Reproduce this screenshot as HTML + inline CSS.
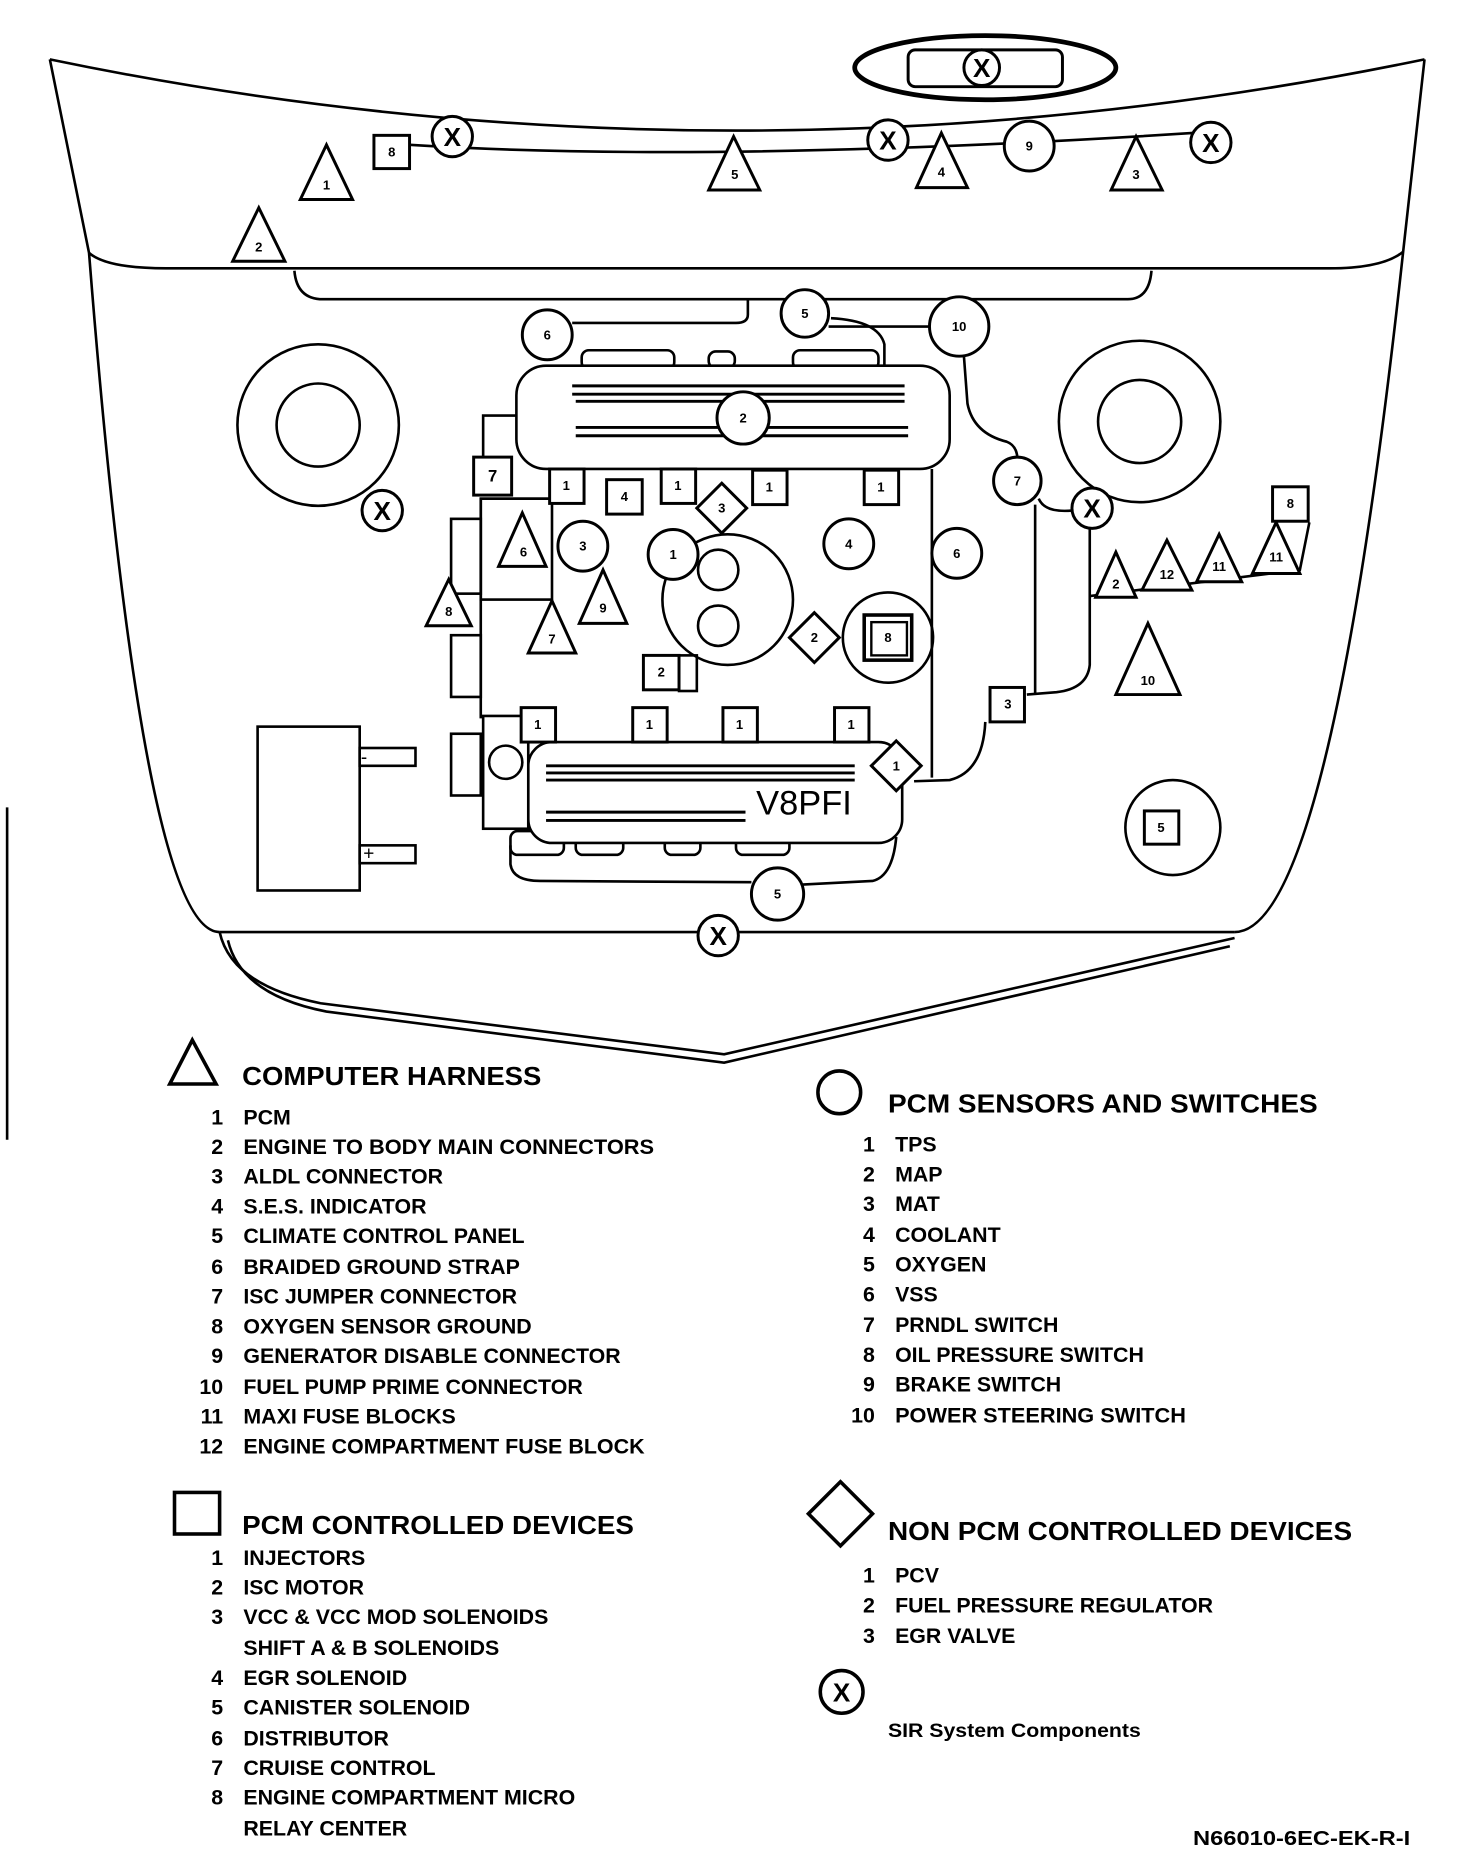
<!DOCTYPE html>
<html><head><meta charset="utf-8"><style>
html,body{margin:0;padding:0;background:#fff;}
svg{display:block;}
text{font-family:"Liberation Sans",Arial,sans-serif;fill:#000;}
.n{font-size:11px;font-weight:bold;text-anchor:middle;dominant-baseline:central;}
.h{font-size:22px;font-weight:bold;}
.i{font-size:18px;font-weight:bold;}
.r{font-size:18px;font-weight:bold;text-anchor:end;}
</style></head><body>
<svg width="1472" height="1870" viewBox="0 0 1240 1575" preserveAspectRatio="none" xmlns="http://www.w3.org/2000/svg">
<g fill="none" stroke="#000" stroke-width="2.2">
<path d="M42,50 Q620,170 1200,50"/>
<path d="M42,50 L75,213 Q120,785 185,785"/>
<path d="M1200,50 L1182,212 Q1120,785 1040,785"/>
<path d="M75,213 Q90,226 140,226 L1120,226 Q1165,226 1182,212"/>
<path d="M185,785 L1040,785"/>
<path d="M185,785 Q195,830 270,845 L610,888 L1040,790"/>
<path d="M192,792 Q203,838 275,852 L610,895 L1036,797"/>
<line x1="6" y1="680" x2="6" y2="960"/>
<ellipse cx="830" cy="57" rx="110" ry="27" stroke-width="4"/>
<rect x="765" y="42" width="130" height="31" rx="6" stroke-width="2.5"/>
<path d="M345,122 Q600,138 1005,112"/>
<path d="M248,228 Q250,252 272,252 L950,252 Q968,252 970,228"/>
<path d="M630,252 L630,265 Q630,272 620,272 L482,272"/>
<path d="M698,275 L788,275"/>
<path d="M700,268 Q740,270 745,290 L745,308"/>
<circle cx="268" cy="358" r="68"/><circle cx="268" cy="358" r="35"/>
<circle cx="960" cy="355" r="68"/><circle cx="960" cy="355" r="35"/>
<rect x="490" y="295" width="78" height="16" rx="6"/>
<rect x="597" y="296" width="22" height="14" rx="6"/>
<rect x="668" y="295" width="72" height="16" rx="6"/>
<rect x="435" y="308" width="365" height="87" rx="25" fill="#fff"/>
<path d="M435,350 L407,350 L407,385"/>
<path d="M465,420 L405,420 L405,605"/>
<path d="M785,395 L785,655"/>
<rect x="405" y="420" width="60" height="85"/>
<rect x="380" y="437" width="25" height="63"/>
<rect x="380" y="535" width="25" height="52"/>
<rect x="380" y="618" width="25" height="52"/>
<circle cx="613" cy="505" r="55"/>
<circle cx="605" cy="480" r="17"/><circle cx="605" cy="527" r="17"/>
<circle cx="748" cy="537" r="38"/>
<rect x="728" y="518" width="40" height="38" stroke-width="3"/>
<rect x="734" y="524" width="30" height="28" stroke-width="2"/>
<rect x="572" y="552" width="15" height="30"/>
<rect x="430" y="700" width="45" height="20" rx="6"/>
<rect x="485" y="705" width="40" height="15" rx="6"/>
<rect x="560" y="705" width="30" height="15" rx="6"/>
<rect x="620" y="705" width="45" height="15" rx="6"/>
<rect x="445" y="625" width="315" height="85" rx="20" fill="#fff"/>
<rect x="407" y="603" width="38" height="95" fill="#fff"/>
<circle cx="426" cy="642" r="14"/>
<path d="M430,712 L430,728 Q432,742 455,742 L633,743"/>
<path d="M676,745 L735,742 Q752,738 755,705"/>
<path d="M812,300 L815,340 Q820,365 848,372 Q856,375 857,385"/>
<path d="M875,420 Q880,432 903,430"/>
<path d="M872,425 L872,585"/>
<path d="M918,445 L918,560 Q916,580 890,583 L865,585"/>
<path d="M830,608 Q828,650 800,657 L770,658"/>
<path d="M918,502 L1095,480 L1103,440"/>
<rect x="217" y="612" width="86" height="138"/>
<rect x="303" y="630" width="47" height="15"/>
<rect x="303" y="712" width="47" height="15"/>
<circle cx="988" cy="697" r="40"/>
</g>
<g fill="none" stroke="#000" stroke-width="2.5">
<line x1="482" y1="325" x2="762" y2="325"/><line x1="482" y1="332" x2="762" y2="332"/><line x1="485" y1="338" x2="762" y2="338"/>
<line x1="485" y1="360" x2="765" y2="360"/><line x1="485" y1="367" x2="765" y2="367"/>
<line x1="460" y1="645" x2="720" y2="645"/><line x1="460" y1="651" x2="720" y2="651"/><line x1="460" y1="657" x2="720" y2="657"/>
<line x1="460" y1="684" x2="628" y2="684"/><line x1="460" y1="691" x2="628" y2="691"/>
</g>
<text x="637" y="686" style="font-size:29px">V8PFI</text>
<text x="304" y="643" style="font-size:16px">-</text>
<text x="306" y="724" style="font-size:16px">+</text>

<g fill="#fff" stroke="#000" stroke-width="2.5">
<circle cx="381" cy="115" r="17"/><circle cx="748" cy="118" r="17"/><circle cx="1020" cy="120" r="17"/>
<circle cx="322" cy="430" r="17"/><circle cx="920" cy="428" r="17"/><circle cx="605" cy="788" r="17"/>
<circle cx="827" cy="57" r="15"/>
</g>
<g style="font-size:22px;font-weight:bold" text-anchor="middle">
<text x="381" y="123">X</text><text x="748" y="126">X</text><text x="1020" y="128">X</text>
<text x="322" y="438">X</text><text x="920" y="436">X</text><text x="605" y="796">X</text><text x="827" y="65">X</text>
</g>

<g fill="#fff" stroke="#000" stroke-width="2.5">
<polygon points="275,122 253,168 297,168"/>
<polygon points="218,175 196,220 240,220"/>
<polygon points="618,115 597,160 640,160"/>
<polygon points="793,112 772,158 815,158"/>
<polygon points="957,115 936,160 979,160"/>
<polygon points="440,432 420,477 460,477"/>
<polygon points="378,488 359,527 397,527"/>
<polygon points="508,480 488,525 528,525"/>
<polygon points="465,506 445,550 485,550"/>
<polygon points="940,465 923,503 957,503"/>
<polygon points="983,455 962,497 1004,497"/>
<polygon points="1027,450 1008,490 1046,490"/>
<polygon points="1075,440 1055,483 1095,483"/>
<polygon points="967,525 940,585 994,585"/>
</g>
<text class="n" x="275" y="156">1</text><text class="n" x="218" y="208">2</text><text class="n" x="619" y="147">5</text>
<text class="n" x="793" y="145">4</text><text class="n" x="957" y="147">3</text><text class="n" x="441" y="465">6</text>
<text class="n" x="378" y="515">8</text><text class="n" x="508" y="512">9</text><text class="n" x="465" y="538">7</text>
<text class="n" x="940" y="492">2</text><text class="n" x="983" y="484">12</text><text class="n" x="1027" y="477">11</text>
<text class="n" x="1075" y="469">11</text><text class="n" x="967" y="573">10</text>

<g fill="#fff" stroke="#000" stroke-width="2.5">
<circle cx="867" cy="123" r="21"/><circle cx="461" cy="282" r="21"/><circle cx="678" cy="264" r="20"/>
<circle cx="808" cy="275" r="25"/><circle cx="626" cy="352" r="22"/><circle cx="857" cy="405" r="20"/>
<circle cx="491" cy="460" r="21"/><circle cx="567" cy="467" r="21"/><circle cx="715" cy="458" r="21"/>
<circle cx="806" cy="466" r="21"/><circle cx="655" cy="753" r="22"/>
</g>
<text class="n" x="867" y="123">9</text><text class="n" x="461" y="282">6</text><text class="n" x="678" y="264">5</text>
<text class="n" x="808" y="275">10</text><text class="n" x="626" y="352">2</text><text class="n" x="857" y="405">7</text>
<text class="n" x="491" y="460">3</text><text class="n" x="567" y="467">1</text><text class="n" x="715" y="458">4</text>
<text class="n" x="806" y="466">6</text><text class="n" x="655" y="753">5</text>

<g fill="#fff" stroke="#000" stroke-width="2.5">
<rect x="315" y="114" width="30" height="28"/>
<rect x="399" y="385" width="32" height="32"/>
<rect x="463" y="395" width="29" height="29"/><rect x="511" y="404" width="30" height="29"/>
<rect x="557" y="395" width="29" height="29"/><rect x="634" y="396" width="29" height="29"/>
<rect x="728" y="396" width="29" height="29"/>
<rect x="542" y="552" width="30" height="29"/>
<rect x="439" y="596" width="29" height="29"/><rect x="533" y="596" width="29" height="29"/>
<rect x="609" y="596" width="29" height="29"/><rect x="703" y="596" width="29" height="29"/>
<rect x="834" y="579" width="29" height="29"/>
<rect x="1072" y="410" width="30" height="29"/>
<rect x="964" y="683" width="29" height="28"/>
</g>
<text class="n" x="330" y="128">8</text><text class="n" x="415" y="401" style="font-size:14px">7</text>
<text class="n" x="477" y="409">1</text><text class="n" x="526" y="418">4</text><text class="n" x="571" y="409">1</text>
<text class="n" x="648" y="410">1</text><text class="n" x="742" y="410">1</text><text class="n" x="557" y="566">2</text>
<text class="n" x="453" y="610">1</text><text class="n" x="547" y="610">1</text><text class="n" x="623" y="610">1</text>
<text class="n" x="717" y="610">1</text><text class="n" x="849" y="593">3</text><text class="n" x="1087" y="424">8</text>
<text class="n" x="978" y="697">5</text><text class="n" x="748" y="537">8</text>

<g fill="#fff" stroke="#000" stroke-width="2.5">
<polygon points="608,407 629,428 608,449 587,428"/>
<polygon points="686,516 707,537 686,558 665,537"/>
<polygon points="755,624 776,645 755,666 734,645"/>
</g>
<text class="n" x="608" y="428">3</text><text class="n" x="686" y="537">2</text><text class="n" x="755" y="645">1</text>

<g fill="none" stroke="#000" stroke-width="3">
<polygon points="162,876 143,913 182,913"/>
<rect x="147" y="1257" width="38" height="35"/>
<circle cx="707" cy="920" r="18"/>
<polygon points="708,1248 735,1275 708,1302 681,1275"/>
<circle cx="709" cy="1425" r="18"/>
</g>
<text x="709" y="1433" text-anchor="middle" style="font-size:22px;font-weight:bold">X</text>

<text class="h" x="204" y="914" textLength="252" lengthAdjust="spacingAndGlyphs">COMPUTER HARNESS</text>
<text class="r" x="188" y="947">1</text><text class="i" x="205" y="947">PCM</text>
<text class="r" x="188" y="972">2</text><text class="i" x="205" y="972" textLength="346" lengthAdjust="spacingAndGlyphs">ENGINE TO BODY MAIN CONNECTORS</text>
<text class="r" x="188" y="997">3</text><text class="i" x="205" y="997">ALDL CONNECTOR</text>
<text class="r" x="188" y="1022">4</text><text class="i" x="205" y="1022">S.E.S. INDICATOR</text>
<text class="r" x="188" y="1047">5</text><text class="i" x="205" y="1047">CLIMATE CONTROL PANEL</text>
<text class="r" x="188" y="1073">6</text><text class="i" x="205" y="1073">BRAIDED GROUND STRAP</text>
<text class="r" x="188" y="1098">7</text><text class="i" x="205" y="1098">ISC JUMPER CONNECTOR</text>
<text class="r" x="188" y="1123">8</text><text class="i" x="205" y="1123">OXYGEN SENSOR GROUND</text>
<text class="r" x="188" y="1148">9</text><text class="i" x="205" y="1148">GENERATOR DISABLE CONNECTOR</text>
<text class="r" x="188" y="1174">10</text><text class="i" x="205" y="1174">FUEL PUMP PRIME CONNECTOR</text>
<text class="r" x="188" y="1199">11</text><text class="i" x="205" y="1199">MAXI FUSE BLOCKS</text>
<text class="r" x="188" y="1224">12</text><text class="i" x="205" y="1224" textLength="338" lengthAdjust="spacingAndGlyphs">ENGINE COMPARTMENT FUSE BLOCK</text>

<text class="h" x="204" y="1292" textLength="330" lengthAdjust="spacingAndGlyphs">PCM CONTROLLED DEVICES</text>
<text class="r" x="188" y="1318">1</text><text class="i" x="205" y="1318">INJECTORS</text>
<text class="r" x="188" y="1343">2</text><text class="i" x="205" y="1343">ISC MOTOR</text>
<text class="r" x="188" y="1368">3</text><text class="i" x="205" y="1368">VCC &amp; VCC MOD SOLENOIDS</text>
<text class="i" x="205" y="1394">SHIFT A &amp; B SOLENOIDS</text>
<text class="r" x="188" y="1419">4</text><text class="i" x="205" y="1419">EGR SOLENOID</text>
<text class="r" x="188" y="1444">5</text><text class="i" x="205" y="1444">CANISTER SOLENOID</text>
<text class="r" x="188" y="1470">6</text><text class="i" x="205" y="1470">DISTRIBUTOR</text>
<text class="r" x="188" y="1495">7</text><text class="i" x="205" y="1495">CRUISE CONTROL</text>
<text class="r" x="188" y="1520">8</text><text class="i" x="205" y="1520">ENGINE COMPARTMENT MICRO</text>
<text class="i" x="205" y="1546">RELAY CENTER</text>

<text class="h" x="748" y="937" textLength="362" lengthAdjust="spacingAndGlyphs">PCM SENSORS AND SWITCHES</text>
<text class="r" x="737" y="970">1</text><text class="i" x="754" y="970">TPS</text>
<text class="r" x="737" y="995">2</text><text class="i" x="754" y="995">MAP</text>
<text class="r" x="737" y="1020">3</text><text class="i" x="754" y="1020">MAT</text>
<text class="r" x="737" y="1046">4</text><text class="i" x="754" y="1046">COOLANT</text>
<text class="r" x="737" y="1071">5</text><text class="i" x="754" y="1071">OXYGEN</text>
<text class="r" x="737" y="1096">6</text><text class="i" x="754" y="1096">VSS</text>
<text class="r" x="737" y="1122">7</text><text class="i" x="754" y="1122">PRNDL SWITCH</text>
<text class="r" x="737" y="1147">8</text><text class="i" x="754" y="1147">OIL PRESSURE SWITCH</text>
<text class="r" x="737" y="1172">9</text><text class="i" x="754" y="1172">BRAKE SWITCH</text>
<text class="r" x="737" y="1198">10</text><text class="i" x="754" y="1198" textLength="245" lengthAdjust="spacingAndGlyphs">POWER STEERING SWITCH</text>

<text class="h" x="748" y="1297" textLength="391" lengthAdjust="spacingAndGlyphs">NON PCM CONTROLLED DEVICES</text>
<text class="r" x="737" y="1333">1</text><text class="i" x="754" y="1333">PCV</text>
<text class="r" x="737" y="1358">2</text><text class="i" x="754" y="1358">FUEL PRESSURE REGULATOR</text>
<text class="r" x="737" y="1384">3</text><text class="i" x="754" y="1384">EGR VALVE</text>
<text x="748" y="1463" style="font-size:16px;font-weight:bold" textLength="213" lengthAdjust="spacingAndGlyphs">SIR System Components</text>
<text x="1005" y="1554" style="font-size:17px;font-weight:bold" textLength="183" lengthAdjust="spacingAndGlyphs">N66010-6EC-EK-R-I</text>
</svg>
</body></html>
